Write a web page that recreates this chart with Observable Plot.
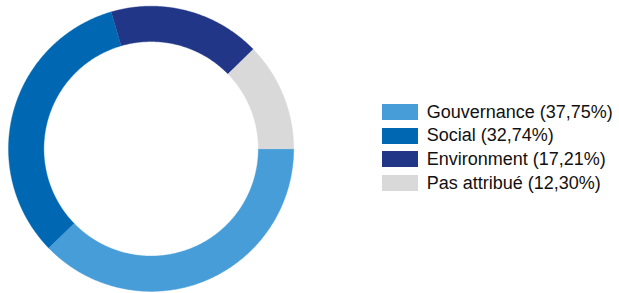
<!DOCTYPE html>
<html>
<head>
<meta charset="utf-8">
<script src="https://cdn.jsdelivr.net/npm/d3@7"></script>
<script src="https://cdn.jsdelivr.net/npm/@observablehq/plot@0.6"></script>
<style>
  html, body { margin: 0; padding: 0; background: #fff; }
  #wrap { position: relative; width: 619px; height: 293px; overflow: hidden; }
  #donut { position: absolute; left: 0; top: 0; }
  #legend { position: absolute; left: 381.7px; top: 100.5px; width: 238px; }
  #legend div[class$="-swatch"] { height: 23.6px; padding-bottom: 0; }
  #legend div[class$="-swatch"] svg { margin-right: 9px; }
  #legend div[class$="-swatch-label"] { overflow: visible; }
</style>
</head>
<body>
<div id="wrap"><div id="donut"></div><div id="legend"></div></div>
<script>
const categories = ["Gouvernance", "Social", "Environment", "Pas attribué"];
const shares = [37.75, 32.74, 17.21, 12.30];
const colors = ["#469dd8", "#0068b3", "#213686", "#d9d9d9"];
const labels = categories.map((c, i) => `${c} (${shares[i].toFixed(2).replace(".", ",")}%)`);

// ring geometry (unit circle, inner radius ratio)
const innerRatio = 0.752;
const startAngle = Math.PI / 2; // 3 o'clock, clockwise

const pie = d3.pie().sort(null).value(d => d.value).startAngle(startAngle).endAngle(startAngle + 2 * Math.PI);
const arcs = pie(categories.map((c, i) => ({label: labels[i], value: shares[i]})));

const pts = [];
for (const a of arcs) {
  const n = Math.max(8, Math.ceil((a.endAngle - a.startAngle) / (Math.PI / 360)));
  for (let k = 0; k <= n; k++) {
    const t = a.startAngle + (a.endAngle - a.startAngle) * k / n;
    pts.push({label: a.data.label, x: Math.sin(t), y: Math.cos(t)});
  }
  for (let k = n; k >= 0; k--) {
    const t = a.startAngle + (a.endAngle - a.startAngle) * k / n;
    pts.push({label: a.data.label, x: innerRatio * Math.sin(t), y: innerRatio * Math.cos(t)});
  }
}

const cx = 150.6, cy = 148.3, R = 142.6;
const color = {domain: labels, range: colors};

const chart = Plot.plot({
  width: 302,
  height: 293,
  margin: 0,
  x: {domain: [-1, 1], range: [cx - R, cx + R], axis: null},
  y: {domain: [-1, 1], range: [cy + R, cy - R], axis: null},
  color,
  marks: [
    Plot.line(pts, {x: "x", y: "y", z: "label", fill: "label", stroke: "label", strokeWidth: 0.4, curve: "linear"})
  ]
});
document.getElementById("donut").appendChild(chart);

const legend = Plot.legend({
  color,
  legend: "swatches",
  columns: 1,
  swatchWidth: 36,
  swatchHeight: 16,
  style: {fontFamily: "'Liberation Sans', Arial, sans-serif", fontSize: "18px", color: "#111", margin: 0}
});
document.getElementById("legend").appendChild(legend);
</script>
</body>
</html>
